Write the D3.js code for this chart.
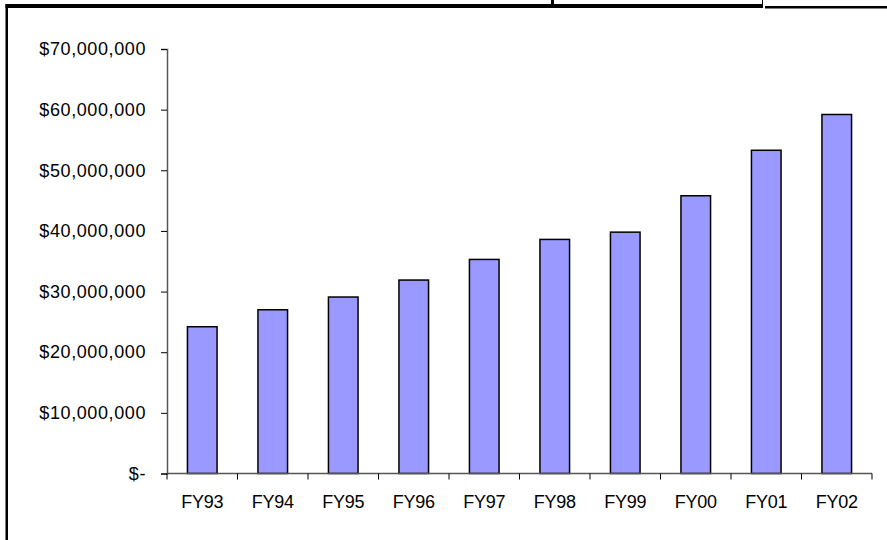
<!DOCTYPE html>
<html>
<head>
<meta charset="utf-8">
<script src="https://cdn.jsdelivr.net/npm/d3@7"></script>
<style>
  html, body { margin: 0; padding: 0; background: #fff; }
  svg { display: block; }
  text { font-family: "Liberation Sans", Arial, sans-serif; fill: #000; }
</style>
</head>
<body>
<svg id="chart" width="887" height="540"></svg>
<script>
// Annual funding by fiscal year
const years = ["FY93", "FY94", "FY95", "FY96", "FY97", "FY98", "FY99", "FY00", "FY01", "FY02"];
const amounts = [24200000, 27000000, 29100000, 31900000, 35300000, 38600000, 39800000, 45800000, 53300000, 59200000];
const yTicks = [0, 10000000, 20000000, 30000000, 40000000, 50000000, 60000000, 70000000];

const svg = d3.select("#chart");

// Surrounding frame of the sheet
svg.append("rect").attr("x", 5.5).attr("y", 4).attr("width", 2.5).attr("height", 536).attr("fill", "#000");
svg.append("rect").attr("x", 5.5).attr("y", 4).attr("width", 757.5).attr("height", 4).attr("fill", "#000");
svg.append("rect").attr("x", 765).attr("y", 6).attr("width", 122).attr("height", 2.5).attr("fill", "#000");
svg.append("rect").attr("x", 551).attr("y", 0).attr("width", 3).attr("height", 5).attr("fill", "#000");
svg.append("rect").attr("x", 762).attr("y", 0).attr("width", 1).attr("height", 8).attr("fill", "#000");

const plotLeft = 167, plotRight = 872, plotTop = 49, plotBottom = 473.5;

const x = d3.scaleBand().domain(years).range([plotLeft, plotRight]).paddingInner(0.58).paddingOuter(0.29);
const xTicks = d3.scaleBand().domain(years).range([plotLeft, plotRight]);
const y = d3.scaleLinear().domain([0, 70000000]).range([plotBottom, plotTop]);

const fmt = d => d === 0 ? "$-" : "$" + d3.format(",")(d);

// Y axis
const yAxis = svg.append("g")
  .attr("transform", `translate(${plotLeft},0)`)
  .call(d3.axisLeft(y).tickValues(yTicks).tickSize(6).tickPadding(15).tickFormat(fmt));
yAxis.select(".domain").attr("stroke", "#555").attr("stroke-width", 1.5);
yAxis.selectAll(".tick line").attr("stroke", "#000");
yAxis.selectAll("text")
  .attr("font-size", 18)
  .attr("letter-spacing", 0.6)
  .attr("font-family", "Liberation Sans, Arial, sans-serif");

// Bars
svg.append("g").selectAll("rect")
  .data(years)
  .join("rect")
  .attr("x", d => x(d))
  .attr("width", x.bandwidth())
  .attr("y", (d, i) => y(amounts[i]))
  .attr("height", (d, i) => plotBottom - y(amounts[i]))
  .attr("fill", "#9999FF")
  .attr("stroke", "#000")
  .attr("stroke-width", 1.5);

// X axis with ticks between categories
const xAxis = svg.append("g").attr("transform", `translate(0,${plotBottom})`);
xAxis.append("line").attr("x1", plotLeft).attr("x2", plotRight).attr("stroke", "#555").attr("stroke-width", 1.5);
const boundaries = years.map(d => xTicks(d)).concat([plotRight]);
xAxis.selectAll("line.tk").data(boundaries).join("line").attr("class", "tk")
  .attr("x1", d => d).attr("x2", d => d).attr("y1", 0).attr("y2", 6).attr("stroke", "#000");
xAxis.selectAll("text").data(years).join("text")
  .attr("x", d => xTicks(d) + xTicks.bandwidth() / 2)
  .attr("y", 34.5)
  .attr("text-anchor", "middle")
  .attr("font-size", 18)
  .attr("letter-spacing", -0.3)
  .text(d => d);
</script>
</body>
</html>
